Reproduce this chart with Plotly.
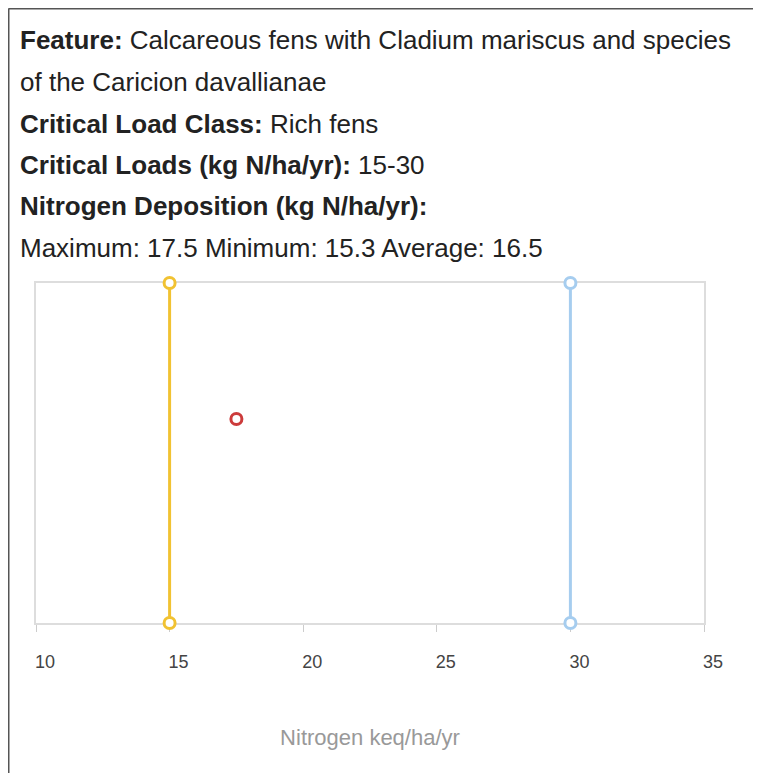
import plotly.graph_objects as go

# ---- data ----
feature = "Calcareous fens with Cladium mariscus and species"
feature_cont = "of the Caricion davallianae"
load_class = "Rich fens"
critical_load_min = 15
critical_load_max = 30
dep_max = 17.5
dep_min = 15.3
dep_avg = 16.5
point_y = 0.6
line_y = [0, 1]
x_ticks = [10, 15, 20, 25, 30, 35]

OFF = 8  # default page body margin
W, H = 761 - OFF, 773 - OFF
L, R, T, B = 36 - OFF, 57, 283 - OFF, 150
PW, PH = W - L - R, H - T - B


def px_x(page_px):
    return (page_px - OFF - L) / PW


def px_y(page_py):
    return (H - B - (page_py - OFF)) / PH


FONT = "Liberation Sans, Arial, sans-serif"
ORANGE = "#f1c232"
BLUE = "#a6cdef"
RED = "#cc3b3b"

fig = go.Figure()
fig.add_trace(go.Scatter(
    x=[critical_load_min] * 2, y=line_y, mode="lines+markers",
    line=dict(color=ORANGE, width=3),
    marker=dict(size=11, color="white", line=dict(color=ORANGE, width=3)),
    cliponaxis=False, showlegend=False, name="Critical load min"))
fig.add_trace(go.Scatter(
    x=[critical_load_max] * 2, y=line_y, mode="lines+markers",
    line=dict(color=BLUE, width=3),
    marker=dict(size=11, color="white", line=dict(color=BLUE, width=3)),
    cliponaxis=False, showlegend=False, name="Critical load max"))
fig.add_trace(go.Scatter(
    x=[dep_max], y=[point_y], mode="markers",
    marker=dict(size=11, color="white", line=dict(color=RED, width=3)),
    cliponaxis=False, showlegend=False, name="Deposition"))

lines = [
    f"<b>Feature:</b> {feature}",
    feature_cont,
    f"<b>Critical Load Class:</b> {load_class}",
    f"<b>Critical Loads (kg N/ha/yr):</b> {critical_load_min}-{critical_load_max}",
    "<b>Nitrogen Deposition (kg N/ha/yr):</b>",
    f"Maximum: {dep_max} Minimum: {dep_min} Average: {dep_avg}",
]
centers = [40, 82, 124, 165, 206, 248]
for txt, cy in zip(lines, centers):
    fig.add_annotation(text=txt, xref="paper", yref="paper",
                       x=px_x(18), y=px_y(cy), xanchor="left", yanchor="middle",
                       showarrow=False, font=dict(family=FONT, size=26, color="#222"))

# outer border (top and left visible)
fig.add_shape(type="line", xref="paper", yref="paper",
              x0=px_x(8.5), x1=px_x(8.5), y0=px_y(8.5), y1=px_y(800),
              line=dict(color="#555", width=2))
fig.add_shape(type="line", xref="paper", yref="paper",
              x0=px_x(8.5), x1=px_x(800), y0=px_y(8.5), y1=px_y(8.5),
              line=dict(color="#555", width=2))

fig.update_layout(
    width=W, height=H, margin=dict(l=L, r=R, t=T, b=B),
    paper_bgcolor="white", plot_bgcolor="white",
    font=dict(family=FONT),
    xaxis=dict(range=[10, 35], tickvals=x_ticks, showgrid=False, zeroline=False,
               showline=True, mirror=True, linecolor="#dddddd", linewidth=2,
               ticks="outside", ticklen=7, tickcolor="#cccccc", tickwidth=1,
               tickfont=dict(family=FONT, size=18, color="#444"),
               ticklabelshift=9, ticklabelstandoff=14,
               layer="below traces",
               title=dict(text="Nitrogen keq/ha/yr", standoff=59,
                          font=dict(family=FONT, size=22, color="#999"))),
    yaxis=dict(range=[0, 1], showgrid=False, zeroline=False, showticklabels=False,
               showline=True, mirror=True, linecolor="#dddddd", linewidth=2,
               ticks="", layer="below traces"),
)

fig.write_html("out.html")
